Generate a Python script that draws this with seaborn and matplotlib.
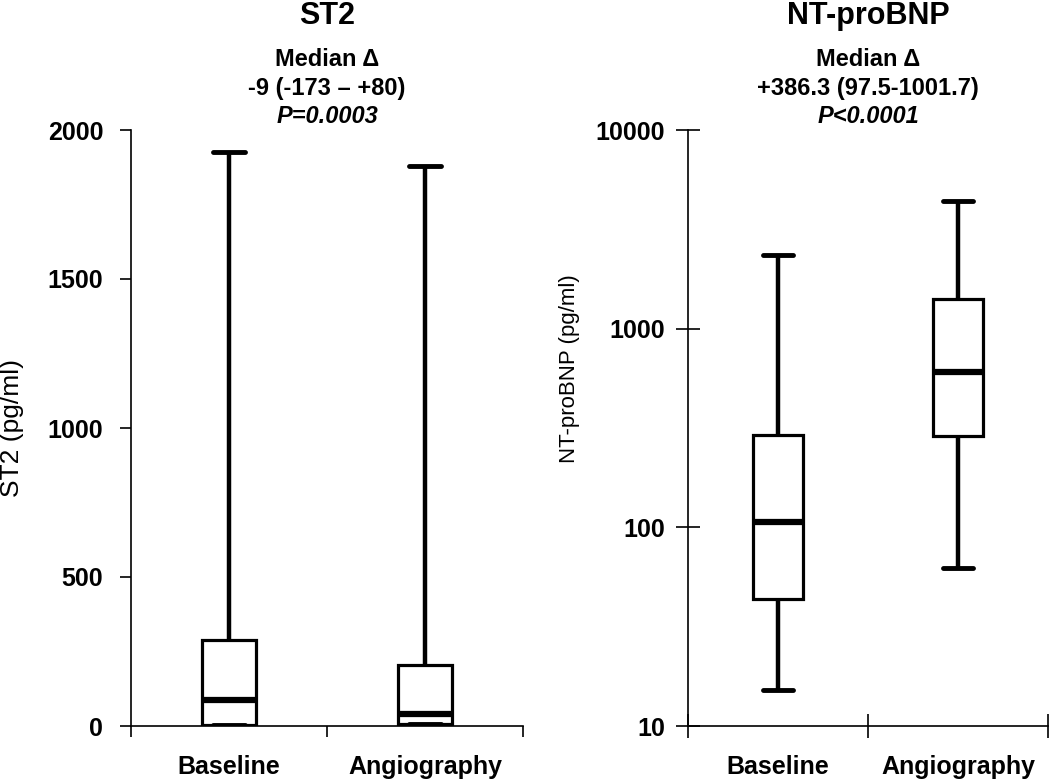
import matplotlib
matplotlib.use("Agg")
import matplotlib.pyplot as plt
import seaborn as sns
import pandas as pd
from matplotlib.ticker import FixedLocator, FixedFormatter, NullFormatter

# ---------------- data ----------------
groups = ["Baseline", "Angiography"]
# five-number summaries: [min, Q1, median, Q3, max]
st2_baseline = [5, 5, 87, 289, 1926]
st2_angiography = [7, 7, 40, 205, 1879]
bnp_baseline = [15.2, 43.6, 106, 292, 2345]
bnp_angiography = [62.4, 288, 605, 1409, 4385]

st2_ticks = [0, 500, 1000, 1500, 2000]
bnp_ticks = [10, 100, 1000, 10000]
bnp_tick_labels = ["10", "100", "1000", "10000"]

st2_title = "ST2"
st2_notes = ["Median \u0394", "-9 (-173 \u2013 +80)", "P=0.0003"]
bnp_title = "NT-proBNP"
bnp_notes = ["Median \u0394", "+386.3 (97.5-1001.7)", "P<0.0001"]

st2_df = pd.DataFrame({
    "group": [groups[0]] * len(st2_baseline) + [groups[1]] * len(st2_angiography),
    "value": st2_baseline + st2_angiography,
})
bnp_df = pd.DataFrame({
    "group": [groups[0]] * len(bnp_baseline) + [groups[1]] * len(bnp_angiography),
    "value": bnp_baseline + bnp_angiography,
})

# ---------------- style ----------------
sns.set_style("white")
plt.rcParams["font.family"] = ["Liberation Sans", "DejaVu Sans"]
plt.rcParams["font.weight"] = "bold"
plt.rcParams["text.color"] = "black"
plt.rcParams["axes.labelcolor"] = "black"
plt.rcParams["xtick.color"] = "black"
plt.rcParams["ytick.color"] = "black"

W, H = 1050, 779
fig = plt.figure(figsize=(W / 100, H / 100), dpi=100)

def px_axes(x0, x1, ytop, ybot):
    return fig.add_axes([x0 / W, 1 - ybot / H, (x1 - x0) / W, (ybot - ytop) / H])

ax1 = px_axes(131, 523, 130, 726)
ax2 = px_axes(688, 1048, 130, 726)

box_kw = dict(x="group", y="value", order=groups, whis=(0, 100), width=0.28,
              color="white", linecolor="black", linewidth=2.3, fliersize=0,
              medianprops={"linewidth": 4.5},
              whiskerprops={"linewidth": 3.2},
              capprops={"linewidth": 3.5})

sns.boxplot(data=st2_df, ax=ax1, capwidths=0.165, **box_kw)
sns.boxplot(data=bnp_df, ax=ax2, log_scale=True, capwidths=0.17, **box_kw)

for ax in (ax1, ax2):
    for s in ("top", "right"):
        ax.spines[s].set_visible(False)
    for s in ("left", "bottom"):
        ax.spines[s].set_linewidth(1.2)
        ax.spines[s].set_color("black")
    ax.set_xlim(-0.5, 1.5)
    ax.set_xlabel("")
    ax.xaxis.set_major_locator(FixedLocator([-0.5, 0.5, 1.5]))
    ax.xaxis.set_major_formatter(NullFormatter())
    ax.xaxis.set_minor_locator(FixedLocator([0, 1]))
    ax.xaxis.set_minor_formatter(FixedFormatter(groups))
    ax.tick_params(axis="x", which="both", bottom=True, top=False)
    ax.tick_params(axis="y", which="both", left=True, right=False, labelsize=18)
    ax.tick_params(axis="x", which="minor", length=0, pad=21, labelsize=18)

ax1.set_ylim(0, 2000)
ax1.yaxis.set_major_locator(FixedLocator(st2_ticks))
ax1.tick_params(axis="both", which="major", direction="out", length=8, width=1.2, pad=12)
ax1.set_ylabel("ST2 (pg/ml)", fontsize=19, fontweight="normal")
ax1.yaxis.set_label_coords(-0.272, 0.5)

ax2.set_ylim(10, 10000)
ax2.yaxis.set_major_locator(FixedLocator(bnp_ticks))
ax2.yaxis.set_major_formatter(FixedFormatter(bnp_tick_labels))
ax2.yaxis.set_minor_locator(FixedLocator([]))
ax2.tick_params(axis="both", which="major", direction="inout", length=17, width=1.2, pad=8)
ax2.set_ylabel("NT-proBNP (pg/ml)", fontsize=16, fontweight="normal")
ax2.yaxis.set_label_coords(-0.30, 0.6)

for lab in ax1.get_xticklabels(minor=True) + ax2.get_xticklabels(minor=True):
    lab.set_fontweight("bold")

def annotate(ax, title, notes):
    ax.text(0.5, 1 + (130 - 16) / 596, title, transform=ax.transAxes,
            ha="center", va="center", fontsize=22, fontweight="bold")
    ys = [59, 89, 117]
    for i, (t, y) in enumerate(zip(notes, ys)):
        ax.text(0.5, 1 + (130 - y) / 596, t, transform=ax.transAxes,
                ha="center", va="center", fontsize=17, fontweight="bold",
                style="italic" if i == 2 else "normal")

annotate(ax1, st2_title, st2_notes)
annotate(ax2, bnp_title, bnp_notes)

fig.savefig("out.png", dpi=100)
